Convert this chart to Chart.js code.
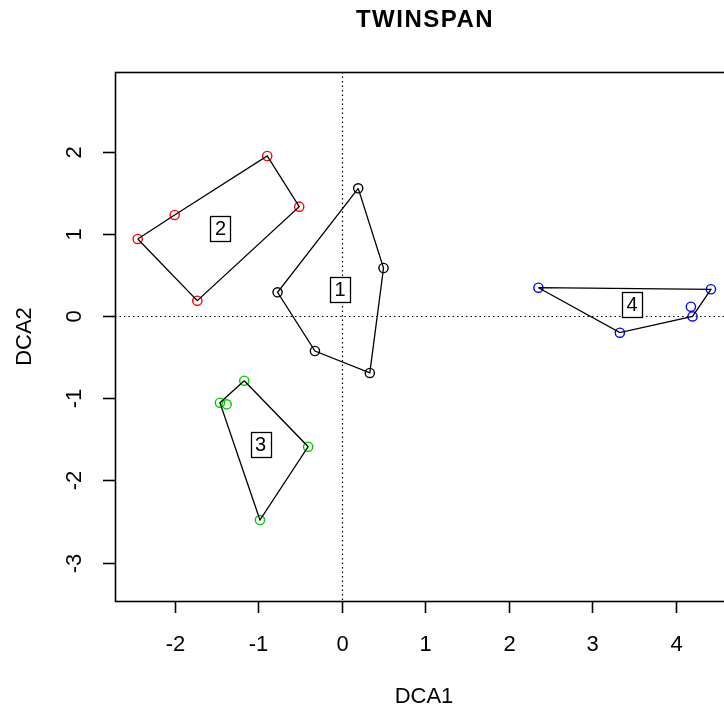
<!DOCTYPE html>
<html>
<head>
<meta charset="utf-8">
<script src="https://cdn.jsdelivr.net/npm/chart.js@4/dist/chart.umd.min.js"></script>
<style>
  html, body { margin: 0; padding: 0; background: #fff; overflow: hidden; width: 724px; height: 709px; }
  #wrap { position: absolute; left: 0; top: 0; width: 760px; height: 709px; }
</style>
</head>
<body>
<div id="wrap"><canvas id="c" width="760" height="709"></canvas></div>
<script>
// ---- data ----
const titleText = "TWINSPAN";
const xAxisTitle = "DCA1";
const yAxisTitle = "DCA2";
const xTickValues = [-2, -1, 0, 1, 2, 3, 4];
const yTickValues = [-3, -2, -1, 0, 1, 2];
const xLimits = [-2.713, 4.684];
const yLimits = [-3.467, 2.968];

const groupNames = ["1", "2", "3", "4"];
const groupColors = ["#000000", "#FF0000", "#00CD00", "#0000FF"];

const group1X = [0.198, 0.501, 0.337, -0.320, -0.767];
const group1Y = [1.553, 0.584, -0.693, -0.426, 0.288];
const group1Hull = [0, 1, 2, 3, 4];

const group2X = [-2.441, -1.999, -0.891, -0.508, -1.728];
const group2Y = [0.937, 1.229, 1.946, 1.330, 0.186];
const group2Hull = [0, 1, 2, 3, 4];

const group3X = [-1.166, -1.457, -1.377, -0.401, -0.978];
const group3Y = [-0.787, -1.055, -1.075, -1.590, -2.482];
const group3Hull = [0, 3, 4, 1];

const group4X = [2.355, 4.420, 4.180, 4.200, 3.330];
const group4Y = [0.344, 0.325, 0.113, -0.005, -0.203];
const group4Hull = [0, 1, 3, 4];

const labelX = [-0.02, -1.45, -0.97, 3.475];
const labelY = [0.32, 1.07, -1.56, 0.14];

// ---- build datasets ----
const groupsX = [group1X, group2X, group3X, group4X];
const groupsY = [group1Y, group2Y, group3Y, group4Y];
const groupsHull = [group1Hull, group2Hull, group3Hull, group4Hull];

const datasets = [];
groupsX.forEach((gx, g) => {
  const gy = groupsY[g];
  const hull = groupsHull[g].concat([groupsHull[g][0]]);
  datasets.push({
    type: 'scatter',
    data: hull.map(i => ({ x: gx[i], y: gy[i] })),
    showLine: true,
    borderColor: '#000',
    borderWidth: 1.3,
    pointRadius: 0,
    fill: false,
    tension: 0
  });
  datasets.push({
    type: 'scatter',
    data: gx.map((v, i) => ({ x: v, y: gy[i] })),
    showLine: false,
    pointRadius: 4.6,
    pointBorderWidth: 1.4,
    pointBorderColor: groupColors[g],
    pointBackgroundColor: 'rgba(0,0,0,0)'
  });
});

const FONT = '"Liberation Sans", Arial, Helvetica, sans-serif';

const decorPlugin = {
  id: 'decor',
  beforeDatasetsDraw(chart) {
    const { ctx, chartArea: a, scales: { x, y } } = chart;
    ctx.save();
    ctx.strokeStyle = '#000';
    ctx.lineWidth = 1.2;
    ctx.setLineDash([1.5, 3]);
    const x0 = Math.round(x.getPixelForValue(0)) + 0.5;
    const y0 = Math.round(y.getPixelForValue(0)) + 0.5;
    ctx.beginPath();
    ctx.moveTo(x0, a.top); ctx.lineTo(x0, a.bottom);
    ctx.moveTo(a.left, y0); ctx.lineTo(a.right, y0);
    ctx.stroke();
    ctx.restore();
  },
  afterDatasetsDraw(chart) {
    const { ctx, scales: { x, y } } = chart;
    ctx.save();
    ctx.font = '20px ' + FONT;
    ctx.textAlign = 'center';
    ctx.textBaseline = 'middle';
    groupNames.forEach((name, i) => {
      const px = x.getPixelForValue(labelX[i]);
      const py = y.getPixelForValue(labelY[i]);
      const w = ctx.measureText(name).width + 9;
      const h = 25;
      const l = Math.round(px - w / 2) + 0.5, t = Math.round(py - h / 2) + 0.5;
      ctx.fillStyle = '#fff';
      ctx.fillRect(l, t, Math.round(w), h);
      ctx.strokeStyle = '#000';
      ctx.lineWidth = 1.3;
      ctx.strokeRect(l, t, Math.round(w), h);
      ctx.fillStyle = '#000';
      ctx.fillText(name, px, py + 1);
    });
    ctx.restore();
  },
  afterDraw(chart) {
    const { ctx, chartArea: a, scales: { x, y } } = chart;
    ctx.save();
    ctx.strokeStyle = '#000';
    ctx.fillStyle = '#000';
    ctx.lineWidth = 1.6;
    // box
    ctx.strokeRect(Math.round(a.left) + 0.5, Math.round(a.top) + 0.5,
      Math.round(a.right - a.left), Math.round(a.bottom - a.top));
    // x ticks
    ctx.font = '22px ' + FONT;
    ctx.textAlign = 'center';
    ctx.textBaseline = 'middle';
    xTickValues.forEach(v => {
      const px = Math.round(x.getPixelForValue(v)) + 0.5;
      ctx.beginPath();
      ctx.moveTo(px, a.bottom); ctx.lineTo(px, a.bottom + 12);
      ctx.stroke();
      ctx.fillText(String(v), px, 645);
    });
    // y ticks
    yTickValues.forEach(v => {
      const py = Math.round(y.getPixelForValue(v)) + 0.5;
      ctx.beginPath();
      ctx.moveTo(a.left, py); ctx.lineTo(a.left - 12, py);
      ctx.stroke();
      ctx.save();
      ctx.translate(75, py);
      ctx.rotate(-Math.PI / 2);
      ctx.fillText(String(v), 0, 0);
      ctx.restore();
    });
    const cx = (a.left + a.right) / 2;
    const cy = (a.top + a.bottom) / 2;
    // axis titles
    ctx.fillText(xAxisTitle, cx, 697);
    ctx.save();
    ctx.translate(25, cy);
    ctx.rotate(-Math.PI / 2);
    ctx.fillText(yAxisTitle, 0, 0);
    ctx.restore();
    // title
    ctx.font = 'bold 24px ' + FONT;
    try { ctx.letterSpacing = '1.5px'; } catch (e) {}
    ctx.fillText(titleText, cx + 1, 20);
    ctx.restore();
  }
};

new Chart(document.getElementById('c'), {
  type: 'scatter',
  data: { datasets },
  options: {
    responsive: false,
    animation: false,
    devicePixelRatio: 1,
    layout: { padding: { left: 115, top: 72, right: 760 - 733, bottom: 709 - 601 } },
    plugins: { legend: { display: false }, tooltip: { enabled: false }, title: { display: false } },
    scales: {
      x: { type: 'linear', min: xLimits[0], max: xLimits[1], display: false },
      y: { type: 'linear', min: yLimits[0], max: yLimits[1], display: false }
    }
  },
  plugins: [decorPlugin]
});
</script>
</body>
</html>
